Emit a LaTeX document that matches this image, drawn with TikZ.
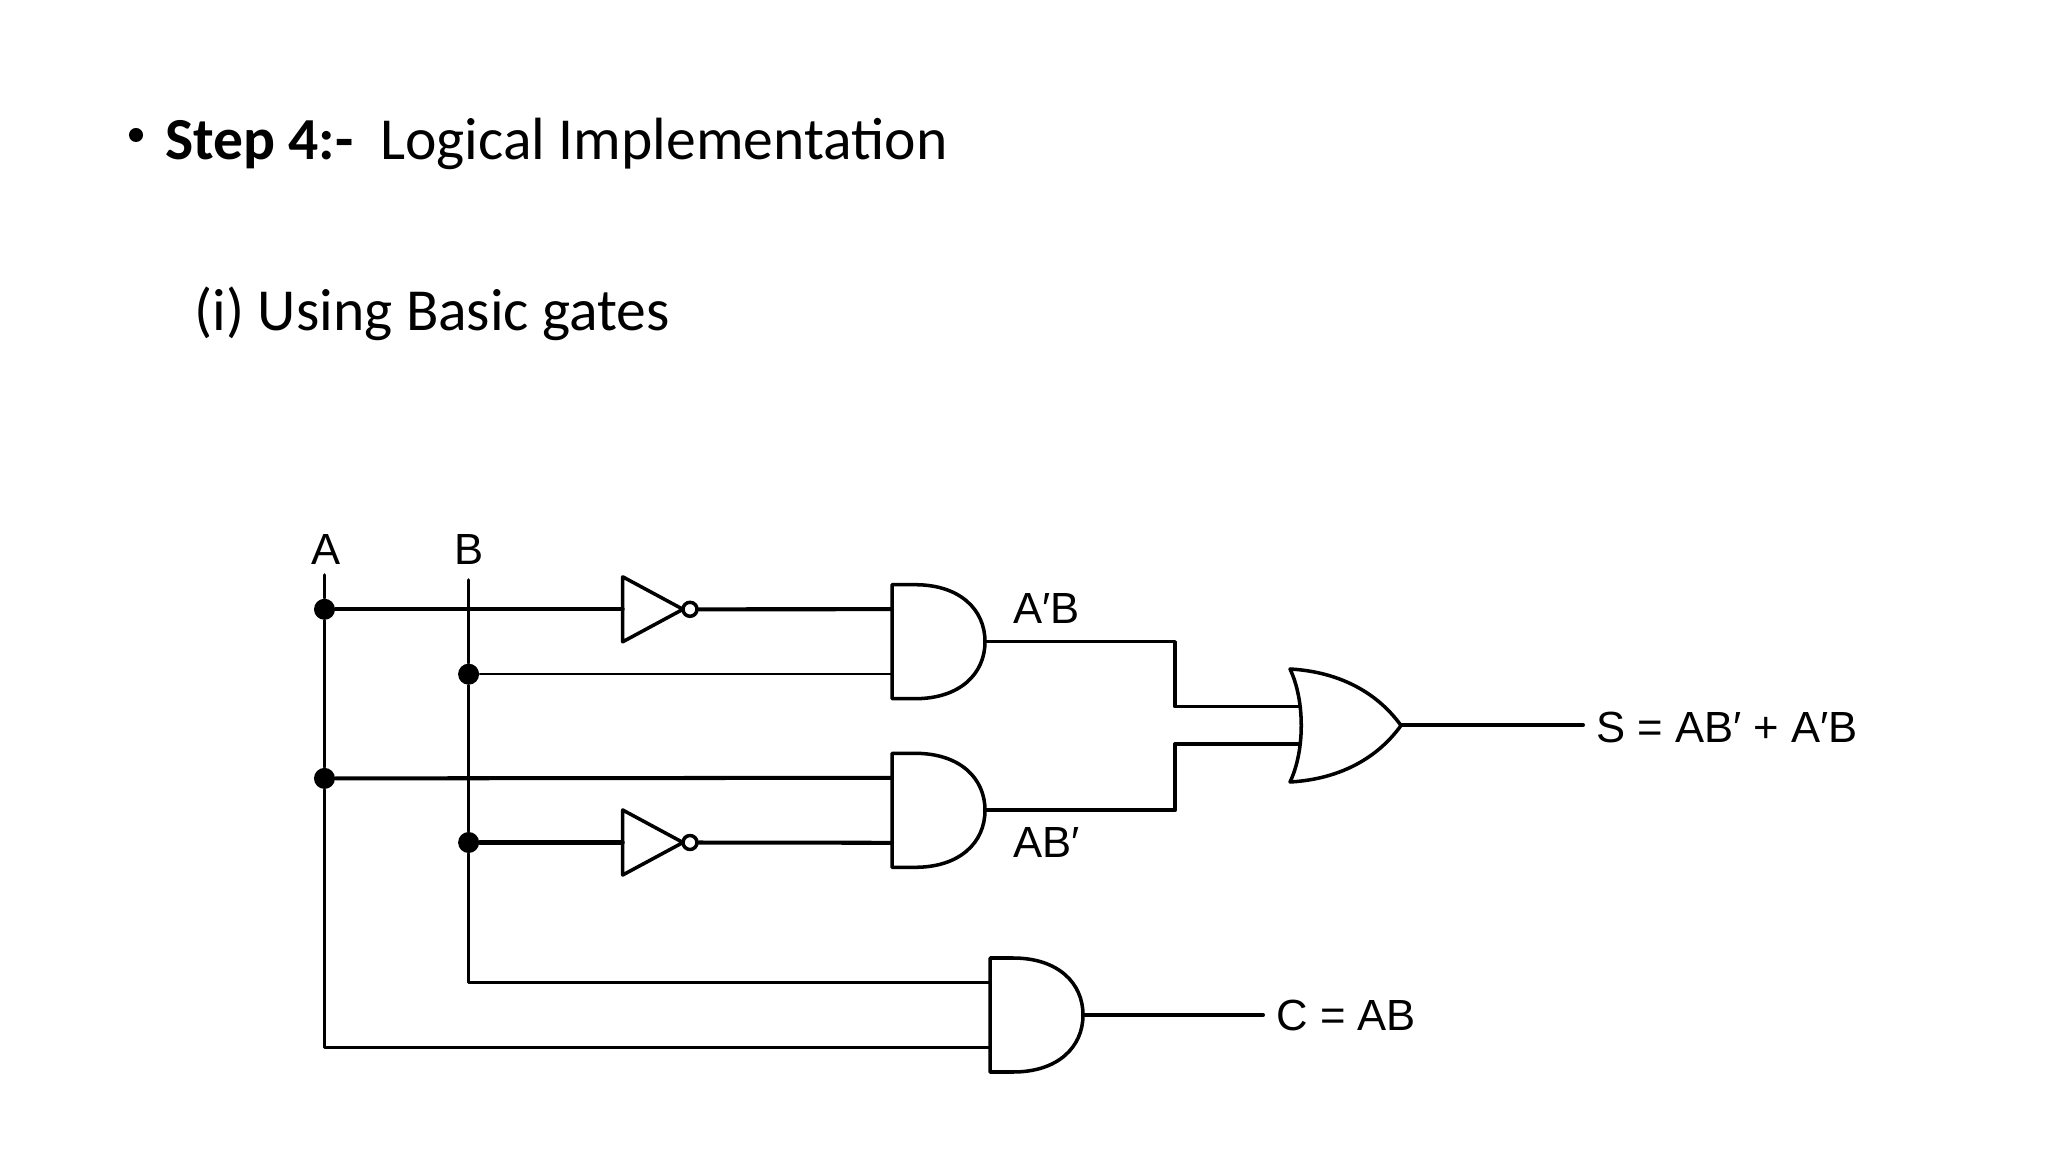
\documentclass[tikz,border=0pt]{standalone}
\usepackage{fontspec}
\setmainfont{Carlito}
\newfontfamily\gatefont{Liberation Sans}
\begin{document}
\begin{tikzpicture}[line cap=round,line join=round,x=0.01cm,y=-0.01cm,
  wire/.style={line width=1.15pt},
  thinwire/.style={line width=0.55pt},
  gateline/.style={line width=1pt},
  joint/.style={circle,fill=black,inner sep=0pt,minimum size=0.21cm},
  bubble/.style={circle,draw,line width=1pt,fill=white,inner sep=0pt,minimum size=0.14cm},
  headtext/.style={anchor=base west,inner sep=0pt,font=\fontsize{16.95}{20}\selectfont},
  gatetext/.style={anchor=base west,inner sep=0pt,font=\gatefont\fontsize{12.4}{14}\selectfont}]
\useasboundingbox (0,0) rectangle (2048,1152);
\fill[white] (0,0) rectangle (2048,1152);
\fill[black] (136,135) circle (0.07cm);
\node[headtext] (stepno) at (164.5,160) {\textbf{Step 4:-}};
\node[headtext] (steptitle) at (379.5,160) {Logical Implementation};
\node[headtext] (usingbasic) at (194,331) {(i) Using Basic gates};
\node[gatetext] (lblA) at (310.5,564.5) {A};
\node[gatetext] (lblB) at (454,564.5) {B};
\node[gatetext] (lblAnotB) at (1013,623.5) {A′B};
\node[gatetext] (lblABnot) at (1013,857.5) {AB′};
\node[gatetext] (lblS) at (1596,742.5) {S = AB′ + A′B};
\node[gatetext] (lblC) at (1276,1030.5) {C = AB};
\foreach \g/\x/\y in {anda/892/641.7,andb/892/810.3,andc/990/1015}
{
\draw[gateline,shift={(\x,\y)}] (0,-57)-- (23,-57) .. controls (68,-57) and (93,-32) .. (93,0) .. controls (93,32) and (68,57) .. (23,57)-- (0,57)-- cycle;
\coordinate (\g1) at (\x,\y-32.5);
\coordinate (\g2) at (\x,\y+32.5);
\coordinate (\g3) at (\x+93,\y);
}
\foreach \g/\y in {inva/609.3,invb/842.5}
{
\draw[gateline,shift={(622.7,\y)}] (0,-32.5)-- (60.3,0)-- (0,32.5)-- cycle;
\coordinate (\g1) at (622.7,\y);
\node[bubble] (\g2) at (690,\y) {};
}
\draw[gateline,shift={(1290,725.5)}] (0,-56.5) .. controls (15,-25) and (15,25) .. (0,56.5) .. controls (45,54) and (85,36) .. (111,0) .. controls (85,-36) and (45,-54) .. (0,-56.5)-- cycle;
\coordinate (ora) at (1299,706.7);
\coordinate (orb) at (1299,744);
\coordinate (orc) at (1401,725);
\coordinate (topA) at (324.5,575);
\coordinate (topB) at (468.6,580);
\coordinate (endS) at (1583,725);
\coordinate (endC) at (1263,1015);
\coordinate (bendA) at (1175,706.7);
\coordinate (bendB) at (1175,744);
\node[joint] (dotAa) at (324.5,609.3) {};
\node[joint] (dotAb) at (324.5,778.4) {};
\node[joint] (dotBa) at (468.6,674.2) {};
\node[joint] (dotBb) at (468.6,842.5) {};
\draw[gateline] (topA)-- (dotAa)-- (dotAb) |- (andc2);
\draw[gateline] (topB)-- (dotBa)-- (dotBb) |- (andc1);
\draw[wire] (dotAa)-- (inva1);
\draw[wire] (inva2)-- (anda1);
\draw[thinwire] (dotBa)-- (anda2);
\draw[wire] (dotAb)-- (andb1);
\draw[wire] (dotBb)-- (invb1);
\draw[wire] (invb2)-- (andb2);
\draw[gateline] (anda3) -| (bendA)-- (ora);
\draw[wire] (andb3) -| (bendB)-- (orb);
\draw[wire] (orc)-- (endS);
\draw[wire] (andc3)-- (endC);
\end{tikzpicture}
\end{document}
